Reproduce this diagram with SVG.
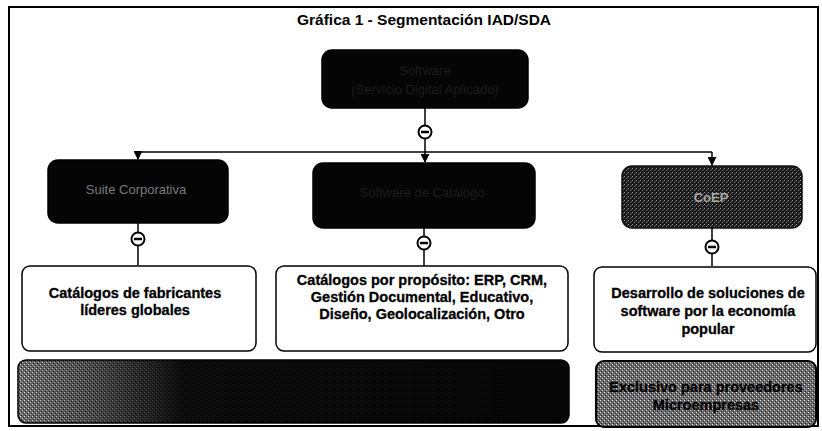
<svg xmlns="http://www.w3.org/2000/svg" width="822" height="431" viewBox="0 0 822 431">
<defs>
<style>
.title{font-family:"Liberation Sans",Arial,sans-serif;font-weight:bold;font-size:15.5px;fill:#000}
.dark{fill:#050505;stroke:#000;stroke-width:1.5}
.dlabel{font-family:"Liberation Sans",Arial,sans-serif;font-size:13px;text-anchor:middle}
.wbox{fill:#fff;stroke:#000;stroke-width:1.5}
.wtext{font-family:"Liberation Sans",Arial,sans-serif;font-weight:bold;font-size:14.5px;fill:#000;text-anchor:middle;stroke:#000;stroke-width:0.3}
.conn{stroke:#000;stroke-width:1.5;fill:none}
.coll{fill:#fff;stroke:#000;stroke-width:2}
.minus{stroke:#000;stroke-width:2.5}
</style>
<pattern id="dither" width="4" height="4" patternUnits="userSpaceOnUse">
<rect width="4" height="4" fill="#1a1a1a"/>
<rect x="0" y="0" width="1" height="1" fill="#9a9a9a"/>
<rect x="2" y="2" width="1" height="1" fill="#777"/>
<rect x="3" y="1" width="1" height="1" fill="#555"/>
</pattern>
<pattern id="dither2" width="4" height="4" patternUnits="userSpaceOnUse">
<rect width="4" height="4" fill="#6a6a6a"/>
<rect x="0" y="0" width="1" height="1" fill="#e0e0e0"/>
<rect x="2" y="2" width="1" height="1" fill="#cfcfcf"/>
<rect x="1" y="3" width="1" height="1" fill="#222"/>
<rect x="3" y="1" width="1" height="1" fill="#333"/>
</pattern>
<linearGradient id="toBlack" x1="0" y1="0" x2="1" y2="0">
<stop offset="0" stop-color="#000" stop-opacity="0"/>
<stop offset="0.12" stop-color="#000" stop-opacity="0.3"/>
<stop offset="0.3" stop-color="#000" stop-opacity="0.9"/>
<stop offset="1" stop-color="#000" stop-opacity="0.95"/>
</linearGradient>
<marker id="arr" viewBox="0 0 10 10" refX="9" refY="5" markerWidth="6" markerHeight="6" orient="auto">
<path d="M0,0 L10,5 L0,10 z" fill="#000"/>
</marker>
</defs>
<rect width="822" height="431" fill="#fff"/>
<rect x="9" y="7" width="809" height="419" fill="none" stroke="#000" stroke-width="2"/>
<text class="title" x="424" y="25" text-anchor="middle">Gráfica 1 - Segmentación IAD/SDA</text>

<g id="connectors">
<path class="conn" d="M425,108 V152"/>
<path class="conn" d="M138,152 H712"/>
<path class="conn" d="M138,152 V159" marker-end="url(#arr)"/>
<path class="conn" d="M425,152 V162" marker-end="url(#arr)"/>
<path class="conn" d="M712,152 V165" marker-end="url(#arr)"/>
<path class="conn" d="M138,223 V265"/>
<path class="conn" d="M424,228 V266"/>
<path class="conn" d="M712,228 V266"/>
<circle class="coll" cx="425" cy="132" r="6.5"/><line class="minus" x1="421" y1="132" x2="429" y2="132"/>
<circle class="coll" cx="138" cy="239" r="6.5"/><line class="minus" x1="134" y1="239" x2="142" y2="239"/>
<circle class="coll" cx="424" cy="243" r="6.5"/><line class="minus" x1="420" y1="243" x2="428" y2="243"/>
<circle class="coll" cx="712" cy="247" r="6.5"/><line class="minus" x1="708" y1="247" x2="716" y2="247"/>
</g>

<g id="node-root">
<rect class="dark" x="322" y="50" width="206" height="58" rx="10"/>
<text class="dlabel" x="425" y="75" fill="#1c1c1c">Software</text>
<text class="dlabel" x="425" y="94" fill="#1c1c1c">(Servicio Digital Aplicado)</text>
</g>
<g id="node-suite">
<rect class="dark" x="48" y="160" width="180" height="63" rx="10"/>
<text class="dlabel" x="136" y="194" fill="#7a7a7a">Suite Corporativa</text>
</g>
<g id="node-catalogo">
<rect class="dark" x="313" y="163" width="222" height="65" rx="10"/>
<text class="dlabel" x="422" y="197" fill="#1c1c1c">Software de Catálogo</text>
</g>
<g id="node-coep">
<rect x="622" y="166" width="180" height="62" rx="10" fill="url(#dither)" stroke="#111" stroke-width="1.5"/>
<text class="dlabel" x="711" y="202" fill="#a8a8a8" font-weight="bold" font-size="16">CoEP</text>
</g>

<g id="node-fabricantes">
<rect class="wbox" x="22" y="266" width="234" height="85" rx="8"/>
<text class="wtext" x="135" y="298">Catálogos de fabricantes</text>
<text class="wtext" x="135" y="315">líderes globales</text>
</g>
<g id="node-proposito">
<rect class="wbox" x="276" y="266" width="292" height="85" rx="8"/>
<text class="wtext" x="422" y="285" font-size="15.5">Catálogos por propósito: ERP, CRM,</text>
<text class="wtext" x="422" y="302" font-size="15.5">Gestión Documental, Educativo,</text>
<text class="wtext" x="422" y="319" font-size="15.5">Diseño, Geolocalización, Otro</text>
</g>
<g id="node-desarrollo">
<rect class="wbox" x="594" y="267" width="222" height="85" rx="8"/>
<text class="wtext" x="708" y="298" font-size="15.5">Desarrollo de soluciones de</text>
<text class="wtext" x="708" y="316" font-size="15.5">software por la economía</text>
<text class="wtext" x="708" y="334" font-size="15.5">popular</text>
</g>

<g id="node-bottom-left">
<rect x="18" y="360" width="551" height="63" rx="8" fill="url(#dither2)" stroke="#000" stroke-width="1.5"/>
<rect x="18" y="360" width="551" height="63" rx="8" fill="url(#toBlack)"/>
</g>
<g id="node-bottom-right">
<rect x="596" y="361" width="220" height="66" rx="8" fill="url(#dither2)" stroke="#000" stroke-width="2"/>
<text class="wtext" x="706" y="392" font-size="14.5">Exclusivo para proveedores</text>
<text class="wtext" x="706" y="410" font-size="14.5">Microempresas</text>
</g>
</svg>
